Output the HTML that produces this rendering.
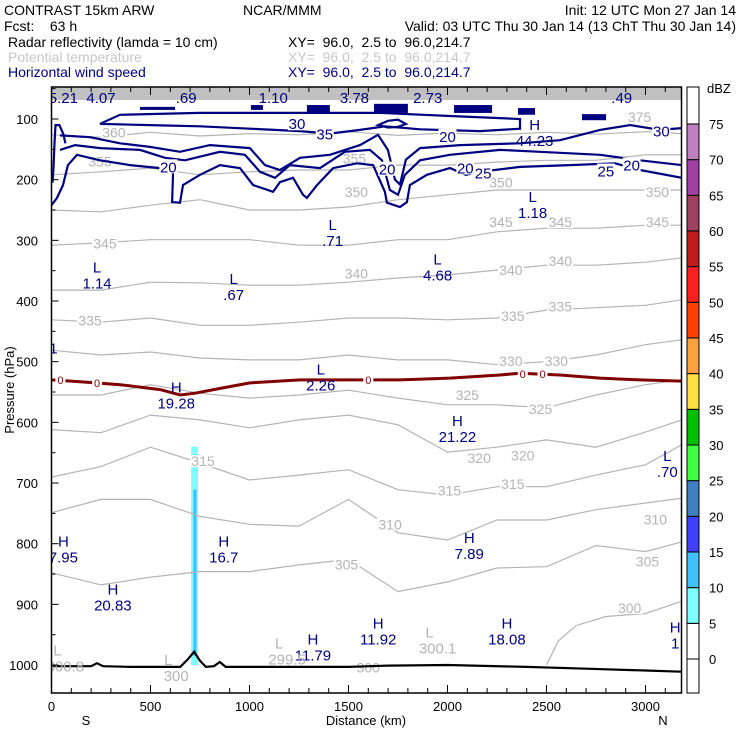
<!DOCTYPE html>
<html><head><meta charset="utf-8"><style>
html,body{margin:0;padding:0;background:#fff;}
svg{display:block;font-family:"Liberation Sans",sans-serif;}
</style></head><body>
<svg id="chart" width="740" height="740" viewBox="0 0 740 740" xmlns="http://www.w3.org/2000/svg">
<g font-size="14">
<text x="4" y="15">CONTRAST 15km ARW</text>
<text x="243" y="15">NCAR/MMM</text>
<text x="736" y="15" text-anchor="end">Init: 12 UTC Mon 27 Jan 14</text>
<text x="4" y="31" xml:space="preserve">Fcst:    63 h</text>
<text x="736" y="31" text-anchor="end">Valid: 03 UTC Thu 30 Jan 14 (13 ChT Thu 30 Jan 14)</text>
<text x="8" y="47">Radar reflectivity (lamda = 10 cm)</text>
<text x="288" y="47" xml:space="preserve">XY=  96.0,  2.5 to  96.0,214.7</text>
<text x="8" y="62" fill="#c8c8c8">Potential temperature</text>
<text x="288" y="62" fill="#c8c8c8" xml:space="preserve">XY=  96.0,  2.5 to  96.0,214.7</text>
<text x="8" y="77" fill="#000080">Horizontal wind speed</text>
<text x="288" y="77" fill="#000080" xml:space="preserve">XY=  96.0,  2.5 to  96.0,214.7</text>
</g>
<g id="plot"></g>
<g id="cbar"></g>
</svg>
<script>
const NS='http://www.w3.org/2000/svg';
// ---------- data ----------
const stationsKm=[0,250,500,750,1000,1250,1500,1750,2000,2250,2500,2750,3000,3183];
const thetaLevels=[305,310,315,320,325,330,335,340,345,350,355,360];
const theta305=[848,868,855,846,846,835,826,879,863,840,838,803,813,797];
const theta310=[749,727,727,755,768,771,727,782,794,761,761,744,733,725];
const theta315=[690,673,641,667,695,687,678,711,720,706,706,687,670,637];
const theta320=[612,617,588,596,609,596,588,604,649,641,629,641,616,596];
const theta325=[555,555,538,552,560,555,547,560,571,571,576,555,538,530];
const theta330=[481,489,484,494,497,497,489,497,497,505,500,489,472,464];
const theta335=[431,435,428,440,440,435,428,428,431,428,415,411,407,398];
const theta340=[382,382,369,370,374,374,369,362,357,349,341,341,336,329];
const theta345=[308,304,299,299,299,308,308,299,299,286,280,280,275,275];
const theta350=[250,253,242,233,250,250,245,233,225,217,217,217,217,217];
const theta355=[192,187,181,192,187,184,184,176,176,171,168,168,159,159];
const theta360=[126,130,122,128,124,126,121,127,123,126,122,125,121,124];
const thetaSeries=[theta305,theta310,theta315,theta320,theta325,theta330,theta335,theta340,theta345,theta350,theta355,theta360];
const theta300Km=[2500,2560,2650,2800,3000,3183];
const theta300P=[1000,960,935,920,915,895];
const thetaLabelText=['360','355','355','350','350','350','345','345','345','345','340','340','340','335','335','335','330','330','325','325','320','320','315','315','315','310','310','305','305','300','375','300'];
const thetaLabelKm=[315,245,1530,1540,2270,3060,270,2270,2570,3060,1540,2320,2570,195,2330,2570,2320,2550,2100,2470,2160,2380,765,2010,2330,1710,3050,1490,3010,2920,2970,1600];
const thetaLabelP=[122,170,165,220,205,220,305,270,270,270,355,349,334,432,425,409,499,499,555,578,659,655,664,712,702,768,760,834,829,906,97,1004];
// wind speed contours (km, hPa)
const wind20Km=[0,28,58,83,129,245,396,548,614,609,649,664,750,851,952,1018,1119,1154,1220,1270,1290,1341,1422,1543,1624,1684,1694,1760,1795,1810,1896,2012,2093,2164,2366,2619,2846,2972,3184];
const wind20P=[242,230,209,176,159,168,176,181,187,237,238,209,192,176,181,209,220,204,197,225,230,209,181,173,176,220,238,245,237,209,192,181,192,187,179,176,173,184,197];
const wind25Km=[43,119,245,447,573,674,851,977,1053,1129,1204,1356,1482,1608,1669,1709,1750,1785,1861,2012,2265,2467,2770,2972,3184];
const wind25P=[151,143,148,151,164,168,154,159,187,197,176,181,154,151,168,217,225,192,168,159,151,154,159,168,176];
const wind30Km=[43,195,346,497,649,800,1002,1078,1154,1255,1406,1558,1649,1699,1735,1760,1790,1861,2063,2366,2568,2770,2922,3073,3184];
const wind30P=[127,130,140,146,154,143,148,176,184,164,159,143,126,151,200,208,167,148,143,140,135,118,110,118,115];
const wind35Km=[245,497,750,1002,1255,1406,1558,1684,1861,2164,2366,2366,2012,1659,1255,750,346,245];
const wind35P=[108,110,112,116,120,124,118,112,117,120,116,100,95,90,90,90,93,108];
const windLeftKm=[5,10,15,20,40,60,70];
const windLeftP=[205,180,140,110,110,125,140];
const jetRingKm=[1650,1700,1750,1790,1750,1700,1650];
const jetRingP=[110,103,101,108,113,114,110];
const windLabelText=['20','20','20','20','20','25','25','30','30','35'];
const windLabelKm=[590,1695,2090,2930,2000,2180,2800,1240,3080,1380];
const windLabelP=[178,182,180,175,128,188,185,107,119,124];
const jetBlockKm0=[1007,1290,1629,2033,2356,2679,447];
const jetBlockKm1=[1068,1406,1800,2225,2442,2801,624];
const jetBlockP0=[77,77,75,77,82,92,80];
const jetBlockP1=[85,90,90,90,93,102,85];
// extrema labels
const extremaType=['L','L','L','L','L','L','L','H','L','L','L','L','L','','L','H','H','L','H','H','H','H','H','H','H','H'];
const extremaValue=['5.21','4.07','.69','1.10','3.78','2.73','.49','44.23','1.18','.71','1.14','4.68','.67','1','2.26','19.28','21.22','.70','7.89','7.95','16.7','20.83','11.79','11.92','18.08','1'];
const extremaKm=[60,250,680,1120,1530,1900,2880,2440,2430,1420,230,1950,920,10,1360,630,2050,3110,2110,60,870,310,1320,1650,2300,3150];
const extremaP=[47,47,47,47,47,47,47,118,237,283,353,340,372,460,521,551,606,664,799,805,805,884,966,940,940,946];
const minTheta=['L','L','L','L'];
const minThetaValue=['300.1','299.5','300.8','300'];
const minThetaKm=[1950,1190,70,630];
const minThetaP=[955,973,984,1000];
// freezing level (0 C isotherm)
const freezeKm=[0,145,347,549,650,726,852,1002,1255,1507,1760,2012,2265,2366,2568,2770,2972,3184];
const freezeP=[530,533,538,546,555,552,544,535,530,530,530,527,522,519,522,527,530,532];
const freezeLabelKm=[45,230,1600,2380,2480];
const freezeLabelP=[530,535,530,520,520];
// terrain (surface pressure)
const terrainKm=[0,200,230,260,400,650,690,720,750,780,820,850,880,1200,1500,1700,2000,2400,2700,3000,3183];
const terrainP=[1002,1002,997,1002,1003,1003,990,978,993,1003,1002,995,1003,1003,1003,1001,1000,1003,1006,1009,1011];
// reflectivity column
const reflKm0=[705,712,716];
const reflKm1=[740,737,732];
const reflPtop=[640,645,711];
const reflPbot=[1000,990,985];
const reflDbz=[7,9,12];
// axes
const yTicks=[100,200,300,400,500,600,700,800,900,1000];
const xTicks=[0,500,1000,1500,2000,2500,3000];
const cbarLevels=[0,5,10,15,20,25,30,35,40,45,50,55,60,65,70,75];
const cbarColors=['#ffffff','#ffffff','#80ffff','#40c0ff','#4040ff','#4080c0','#40ff40','#00c000','#ffe040','#ffa040','#ff4000','#ff2020','#c01c1c','#a04060','#a040a0','#c080c0','#ffffff'];

// ---------- scales ----------
const L=51.5,R=681.5,T=87,B=693;
const X=km=>L+km*0.198;
const Y=p=>119+(p-100)*0.6067;
const plot=document.getElementById('plot');
const cbar=document.getElementById('cbar');
function el(tag,attrs,parent){const e=document.createElementNS(NS,tag);for(const k in attrs)e.setAttribute(k,attrs[k]);(parent||plot).appendChild(e);return e;}
function clampY(y){return Math.max(T,Math.min(B,y));}
function pathFrom(kms,ps,close){let d='';for(let i=0;i<kms.length;i++){d+=(i?'L':'M')+X(kms[i]).toFixed(1)+' '+clampY(Y(ps[i])).toFixed(1);}return d+(close?'Z':'');}

const defs=el('defs',{});
const cp=el('clipPath',{id:'clipPlot'},defs);
el('rect',{x:L,y:T,width:R-L,height:B-T},cp);
const g=el('g',{'clip-path':'url(#clipPlot)'});

const band=el('rect',{x:L,y:T,width:R-L,height:13,fill:'#c0c0c0'},g);



for(let i=0;i<reflDbz.length;i++){
  let ci=0;for(let k=0;k<cbarLevels.length;k++){if(reflDbz[i]>=cbarLevels[k])ci=k+1;}
  const r=el('rect',{x:X(reflKm0[i]),y:Y(reflPtop[i]),width:X(reflKm1[i])-X(reflKm0[i]),height:Y(reflPbot[i])-Y(reflPtop[i]),fill:cbarColors[ci]},g);
  
  
}

for(let i=0;i<thetaSeries.length;i++){
  const p=el('path',{d:pathFrom(stationsKm,thetaSeries[i]),fill:'none',stroke:'#b4b4b4','stroke-width':1.2},g);
  
  
}
const p300=el('path',{d:pathFrom(theta300Km,theta300P),fill:'none',stroke:'#b4b4b4','stroke-width':1.2},g);


for(let i=0;i<thetaLabelText.length;i++){
  const x=X(thetaLabelKm[i]),y=Y(thetaLabelP[i]);
  el('rect',{x:x-13,y:y-6,width:26,height:12,fill:'#fff'},g);
  const t=el('text',{x:x,y:y+5,fill:'#b4b4b4','font-size':14,'text-anchor':'middle'},g);
  t.textContent=thetaLabelText[i];
  
  
}

const windSets=[[wind20Km,wind20P,false,'wind-contour-20'],[wind25Km,wind25P,false,'wind-contour-25'],[wind30Km,wind30P,false,'wind-contour-30'],[wind35Km,wind35P,true,'wind-contour-35'],[windLeftKm,windLeftP,false,'wind-contour-left'],[jetRingKm,jetRingP,true,'jet-core-ring']];
for(const s of windSets){
  const p=el('path',{d:pathFrom(s[0],s[1],s[2]),fill:'none',stroke:'#000080','stroke-width':2.2},g);
  
  
}
for(let i=0;i<jetBlockKm0.length;i++){
  const r=el('rect',{x:X(jetBlockKm0[i]),y:Y(jetBlockP0[i]),width:X(jetBlockKm1[i])-X(jetBlockKm0[i]),height:Y(jetBlockP1[i])-Y(jetBlockP0[i]),fill:'#000080'},g);
  
  
}
for(let i=0;i<windLabelText.length;i++){
  const x=X(windLabelKm[i]),y=Y(windLabelP[i]);
  el('rect',{x:x-9,y:y-7,width:18,height:14,fill:'#fff'},g);
  const t=el('text',{x:x,y:y+6,fill:'#000080','font-size':15,'text-anchor':'middle'},g);
  t.textContent=windLabelText[i];
  
  
}

const fz=el('path',{d:pathFrom(freezeKm,freezeP),fill:'none',stroke:'#800000','stroke-width':3},g);


for(let i=0;i<freezeLabelKm.length;i++){
  const x=X(freezeLabelKm[i]),y=Y(freezeLabelP[i]);
  el('rect',{x:x-5,y:y-5,width:10,height:10,fill:'#fff'},g);
  const t=el('text',{x:x,y:y+4,fill:'#800000','font-size':11,'text-anchor':'middle'},g);
  t.textContent='0';
  
  
}

const tr=el('path',{d:pathFrom(terrainKm,terrainP),fill:'none',stroke:'#000','stroke-width':2.2},g);



for(let i=0;i<extremaType.length;i++){
  const x=X(extremaKm[i]),y=Y(extremaP[i]);
  const a=el('text',{x:x,y:y,fill:'#000080','font-size':15,'text-anchor':'middle'},g);
  a.textContent=extremaType[i];
  
  
  const b=el('text',{x:x,y:y+16,fill:'#000080','font-size':15,'text-anchor':'middle'},g);
  b.textContent=extremaValue[i];
  
  
}
for(let i=0;i<minTheta.length;i++){
  const x=X(minThetaKm[i]),y=Y(minThetaP[i]);
  const a=el('text',{x:x-8,y:y,fill:'#b4b4b4','font-size':15,'text-anchor':'middle'},g);
  a.textContent=minTheta[i];
  
  
  const b=el('text',{x:x,y:y+16,fill:'#b4b4b4','font-size':15,'text-anchor':'middle'},g);
  b.textContent=minThetaValue[i];
  
  
}

const fr=el('rect',{x:L,y:T,width:R-L,height:B-T,fill:'none',stroke:'#000','stroke-width':1.5});



for(let p=50;p<=1050;p+=50){
  const y=Y(p); if(y<T||y>B)continue;
  el('line',{x1:L,x2:L+(p%100===0?7:4),y1:y,y2:y,stroke:'#000','stroke-width':1});
}
for(const p of yTicks){
  const t=el('text',{x:38,y:Y(p)+5,'font-size':13,'text-anchor':'end'});
  t.textContent=p;
  
  
}
const yt=el('text',{x:0,y:0,'font-size':13,'text-anchor':'middle',transform:'translate(14,390) rotate(-90)'});
yt.textContent='Pressure (hPa)';



for(let km=0;km<=3183;km+=100){
  const x=X(km),len=km%500===0?8:5;
  el('line',{x1:x,x2:x,y1:B,y2:B-len,stroke:'#000','stroke-width':1});
  el('line',{x1:x,x2:x,y1:T,y2:T+len,stroke:'#000','stroke-width':1});
}
for(const km of xTicks){
  const t=el('text',{x:X(km),y:711,'font-size':13,'text-anchor':'middle'});
  t.textContent=km;
  
  
}
const xt=el('text',{x:366,y:725,'font-size':13,'text-anchor':'middle'});
xt.textContent='Distance (km)';


const sl=el('text',{x:86,y:725,'font-size':13,'text-anchor':'middle'});
sl.textContent='S';


const nl=el('text',{x:663,y:725,'font-size':13,'text-anchor':'middle'});
nl.textContent='N';



const CX=687,CW=12,CY0=659,STEP=35.67;
for(let i=0;i<cbarColors.length;i++){
  const top=i===cbarColors.length-1?T:CY0-i*STEP;
  const bot=i===0?B:CY0-(i-1)*STEP;
  const r=el('rect',{x:CX,y:top,width:CW,height:bot-top,fill:cbarColors[i],stroke:'#000','stroke-width':1},cbar);
  
  
}
for(let i=0;i<cbarLevels.length;i++){
  const t=el('text',{x:709,y:CY0-i*STEP+5,'font-size':13},cbar);
  t.textContent=cbarLevels[i];
  
  
}
const du=el('text',{x:707,y:93,'font-size':13},cbar);
du.textContent='dBZ';


</script>
</body></html>
